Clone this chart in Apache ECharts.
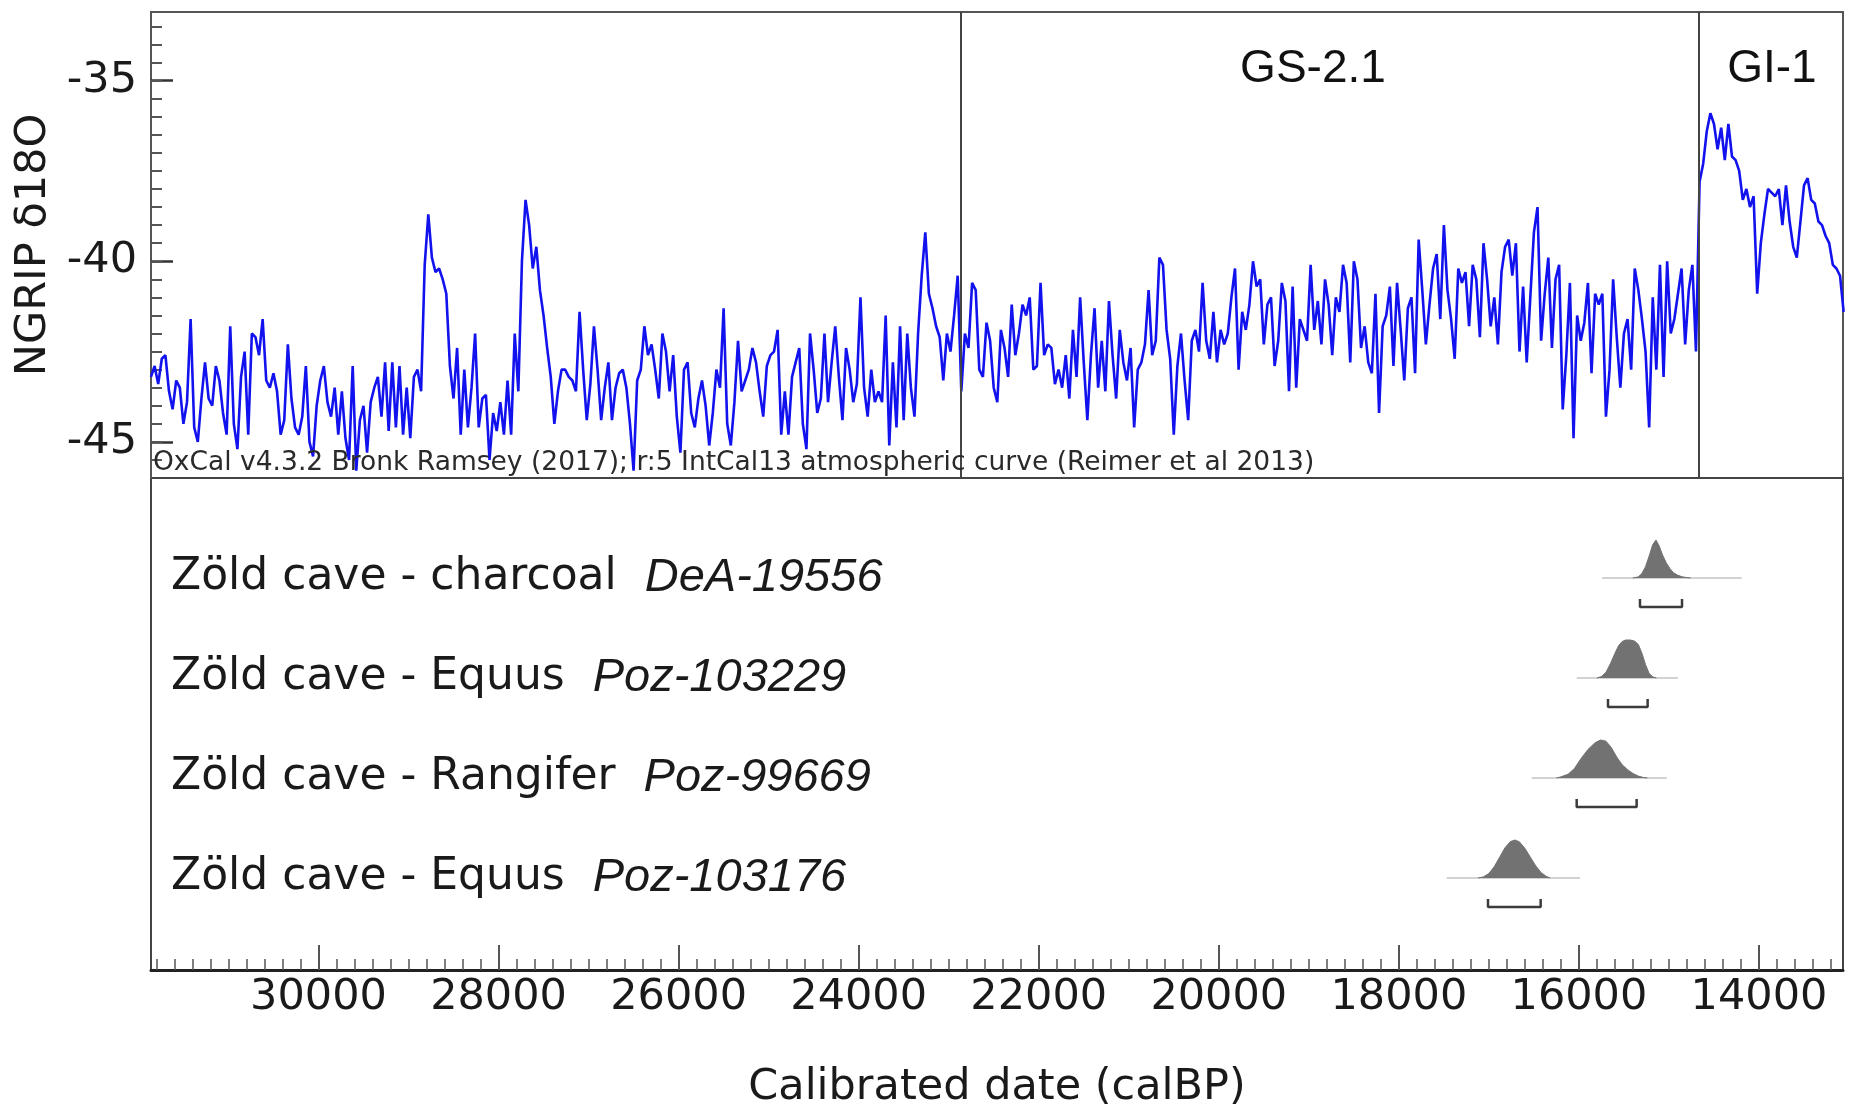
<!DOCTYPE html>
<html>
<head>
<meta charset="utf-8">
<title>NGRIP δ18O and Zöld cave dates</title>
<script src="https://cdn.jsdelivr.net/npm/echarts/dist/echarts.min.js"></script>
<style>
  html, body { margin: 0; padding: 0; background: #fff; }
  #chart { width: 1850px; height: 1111px; }
</style>
</head>
<body>
<div id="chart"></div>
<script>
// NGRIP d18O, one value every 40 years, oldest first
const ngripStart = 31860;
const ngripStep = 40;
const ngripValues = [
  -43.2, -42.9, -43.4, -42.7, -42.6, -43.6, -44.1, -43.3, -43.5, -44.5,
  -43.9, -41.6, -44.6, -45.0, -43.8, -42.8, -43.8, -44.0, -42.9, -43.3,
  -44.2, -44.8, -41.8, -44.5, -45.2, -43.2, -42.5, -44.8, -42.0, -42.1,
  -42.6, -41.6, -43.3, -43.5, -43.1, -43.6, -44.8, -44.4, -42.3, -43.8,
  -44.6, -44.8, -44.3, -42.9, -45.0, -45.4, -44.0, -43.3, -42.9, -43.9,
  -44.3, -43.5, -44.8, -43.6, -44.9, -45.5, -42.9, -45.8, -44.4, -44.0,
  -45.3, -43.9, -43.5, -43.2, -44.3, -42.8, -44.7, -42.8, -44.6, -42.9,
  -44.8, -43.5, -44.9, -43.2, -43.0, -43.6, -40.1, -38.7, -39.9, -40.3,
  -40.2, -40.5, -40.9, -42.9, -43.8, -42.4, -44.8, -43.0, -44.6, -43.5,
  -42.0, -44.6, -43.8, -43.7, -45.5, -44.2, -44.7, -43.9, -44.8, -43.3,
  -44.8, -42.0, -43.6, -40.0, -38.3, -39.0, -40.2, -39.6, -40.8, -41.5,
  -42.4, -43.2, -44.5, -43.6, -43.0, -43.0, -43.2, -43.3, -43.6, -41.4,
  -43.0, -44.4, -43.4, -41.8, -43.0, -44.4, -43.5, -42.8, -44.4, -43.5,
  -43.1, -43.0, -43.5, -44.5, -45.8, -43.3, -43.0, -41.8, -42.6, -42.3,
  -43.0, -43.8, -42.0, -42.5, -43.6, -42.6, -44.3, -45.3, -43.0, -42.8,
  -44.2, -44.6, -43.8, -43.3, -44.0, -45.1, -44.2, -43.0, -43.5, -41.3,
  -44.5, -45.1, -43.9, -42.2, -43.6, -43.3, -43.0, -42.4, -42.8, -43.6,
  -44.3, -42.9, -42.6, -42.5, -41.9, -44.8, -43.6, -44.8, -43.2, -42.8,
  -42.4, -44.5, -45.2, -42.0, -43.0, -44.2, -43.8, -42.0, -43.9, -42.8,
  -41.8, -43.2, -44.4, -42.4, -43.0, -43.9, -43.4, -41.0, -43.5, -44.3,
  -43.0, -43.9, -43.6, -43.9, -41.5, -45.1, -42.8, -44.6, -41.8, -44.4,
  -42.0, -43.5, -44.3, -42.0, -40.4, -39.2, -40.9, -41.3, -41.8, -42.1,
  -43.3, -42.0, -42.5, -41.5, -40.4, -43.6, -42.0, -42.4, -40.6, -40.8,
  -43.0, -43.2, -41.7, -42.2, -43.5, -43.9, -41.9, -42.4, -43.2, -41.2,
  -42.6, -42.0, -41.2, -41.5, -41.0, -43.0, -42.9, -40.6, -42.6, -42.3,
  -42.4, -43.4, -43.0, -43.5, -42.6, -43.8, -41.9, -43.2, -41.0, -42.8,
  -44.4, -42.6, -41.3, -43.5, -42.2, -43.6, -41.1, -42.6, -43.8, -41.9,
  -42.8, -43.3, -42.4, -44.6, -43.0, -42.8, -42.3, -40.8, -42.6, -42.2,
  -39.9, -40.1, -41.9, -42.7, -44.8, -42.9, -42.0, -43.3, -44.4, -42.2,
  -41.9, -42.5, -40.6, -42.2, -42.7, -41.4, -42.8, -41.9, -42.3, -42.0,
  -41.0, -40.2, -43.0, -41.4, -41.9, -41.2, -40.0, -40.7, -40.5, -42.3,
  -41.2, -41.0, -42.9, -42.2, -40.6, -41.1, -43.6, -40.7, -43.5, -41.6,
  -41.9, -42.2, -40.1, -41.9, -41.1, -42.3, -40.5, -41.2, -42.6, -41.0,
  -41.4, -40.1, -40.6, -42.8, -40.0, -40.5, -42.4, -41.8, -42.8, -43.1,
  -40.9, -44.2, -41.8, -41.5, -40.7, -42.9, -40.6, -41.9, -43.3, -41.3,
  -41.0, -43.1, -39.4, -40.8, -42.3, -41.2, -40.2, -39.8, -41.6, -39.0,
  -40.8, -41.6, -42.7, -40.2, -40.6, -40.3, -41.8, -40.1, -40.5, -42.1,
  -39.5, -40.5, -41.8, -41.0, -42.3, -40.3, -39.6, -39.4, -40.4, -39.5,
  -42.5, -40.7, -42.8, -41.0, -39.2, -38.5, -42.2, -40.9, -39.9, -42.4,
  -40.5, -40.1, -44.1, -42.6, -40.6, -44.9, -41.5, -42.2, -41.7, -40.6,
  -43.1, -40.9, -41.2, -40.9, -44.3, -43.0, -40.5, -42.1, -43.5, -42.0,
  -41.6, -43.0, -40.2, -40.8, -41.6, -42.5, -44.6, -41.0, -43.0, -40.1,
  -43.2, -40.0, -42.0, -41.6, -40.9, -40.2, -42.3, -40.8, -40.1, -42.5,
  -37.8, -37.3, -36.4, -35.9, -36.2, -36.9, -36.3, -37.2, -36.2, -37.1,
  -37.2, -37.5, -38.3, -38.0, -38.5, -38.2, -40.9, -39.5, -38.7, -38.0,
  -38.1, -38.2, -38.0, -39.0, -37.9, -38.9, -39.6, -39.9, -38.9, -37.9,
  -37.7, -38.3, -38.4, -38.9, -39.0, -39.3, -39.5, -40.1, -40.2, -40.4,
  -41.4
];

// axes
const xMin = 13067;
const xMax = 31860;
const yMin = -46;
const yMax = -33.1;
const xTickLabels = [14000, 16000, 18000, 20000, 22000, 24000, 26000, 28000, 30000];
const yTickLabels = [-45, -40, -35];

// Greenland stadial / interstadial boundaries
const eventBounds = [22869, 14667];
const eventNames = ['GS-2.1', 'GI-1'];
const eventLabelYears = [18954, 13856];
const eventLabelLevel = -34.7;

// radiocarbon dates (calibrated), one row each
const sampleSites = ['Zöld cave - charcoal', 'Zöld cave - Equus', 'Zöld cave - Rangifer', 'Zöld cave - Equus'];
const sampleCodes = ['DeA-19556', 'Poz-103229', 'Poz-99669', 'Poz-103176'];
const distDeA19556 = [[15400, 0], [15340, 0.03], [15300, 0.12], [15260, 0.3], [15220, 0.58], [15180, 0.88], [15144, 1], [15110, 0.85], [15070, 0.6], [15030, 0.4], [14990, 0.25], [14950, 0.14], [14900, 0.07], [14850, 0.03], [14800, 0.01], [14760, 0]];
const distPoz103229 = [[15800, 0], [15750, 0.04], [15700, 0.15], [15650, 0.38], [15600, 0.65], [15560, 0.85], [15520, 0.96], [15480, 1], [15430, 1], [15380, 0.97], [15340, 0.88], [15300, 0.65], [15260, 0.35], [15220, 0.12], [15180, 0.03], [15140, 0]];
const distPoz99669 = [[16250, 0], [16200, 0.03], [16120, 0.1], [16050, 0.25], [15980, 0.5], [15900, 0.75], [15820, 0.93], [15760, 1], [15700, 0.97], [15640, 0.8], [15580, 0.55], [15520, 0.35], [15460, 0.22], [15400, 0.12], [15340, 0.05], [15280, 0.01], [15240, 0]];
const distPoz103176 = [[17120, 0], [17060, 0.03], [17000, 0.12], [16940, 0.3], [16880, 0.55], [16820, 0.8], [16760, 0.96], [16710, 1], [16660, 0.95], [16600, 0.78], [16540, 0.55], [16480, 0.32], [16420, 0.14], [16360, 0.04], [16320, 0]];
const distributions = [distDeA19556, distPoz103229, distPoz99669, distPoz103176];
const likeFrom = [15744, 16025, 16525, 17469];
const likeTo = [14193, 14900, 15026, 15988];
const rangeFrom = [15322, 15677, 16025, 17010];
const rangeTo = [14855, 15237, 15359, 16425];

// minor ticks every 200 years, every 0.5 per mil
const xMinorTicks = [];
for (let t = 13200; t < xMax; t += 200) xMinorTicks.push(t);
const yMinorTicks = [];
for (let t = -45.5; t < yMax; t += 0.5) yMinorTicks.push(t);

const ngripData = ngripValues.map((v, i) => [ngripStart - i * ngripStep, v]);

const textFont = 'DejaVu Sans';
const peakHeight = 0.38;

let chart = echarts.init(document.getElementById('chart'));

const series = [
  {
    type: 'line',
    xAxisIndex: 0,
    yAxisIndex: 0,
    data: ngripData,
    symbol: 'none',
    silent: true,
    lineStyle: { color: '#1212ee', width: 2.6 },
    markLine: {
      silent: true,
      symbol: 'none',
      label: { show: false },
      lineStyle: { color: '#444', width: 2, type: 'solid' },
      data: eventBounds.map(x => ({ xAxis: x }))
    },
    z: 3
  },
  {
    type: 'scatter',
    xAxisIndex: 0,
    yAxisIndex: 0,
    data: eventLabelYears.map((x, i) => [x, eventLabelLevel, eventNames[i]]),
    symbolSize: 1,
    itemStyle: { color: 'transparent', opacity: 1 },
    silent: true,
    label: {
      show: true,
      position: 'inside',
      formatter: p => p.data[2],
      fontFamily: 'Liberation Sans',
      fontSize: 46,
      color: '#111',
      opacity: 1,
      textBorderWidth: 0
    }
  }
];

distributions.forEach((d, r) => {
  const row = r + 1;
  // faint full-range line under each distribution
  series.push({
    type: 'line',
    xAxisIndex: 1,
    yAxisIndex: 2,
    data: [[likeFrom[r], row], [likeTo[r], row]],
    symbol: 'none',
    silent: true,
    lineStyle: { color: '#d2d2d2', width: 2 },
    z: 2
  });
  series.push({
    type: 'line',
    xAxisIndex: 1,
    yAxisIndex: 2,
    data: d.map(p => [p[0], row - p[1] * peakHeight]),
    symbol: 'none',
    silent: true,
    lineStyle: { color: '#727272', width: 1 },
    areaStyle: { color: '#727272', opacity: 1, origin: row },
    z: 3
  });
  // 95% range bracket
  series.push({
    type: 'line',
    xAxisIndex: 1,
    yAxisIndex: 2,
    data: [[rangeFrom[r], row + 0.21], [rangeFrom[r], row + 0.29], [rangeTo[r], row + 0.29], [rangeTo[r], row + 0.21]],
    symbol: 'none',
    silent: true,
    lineStyle: { color: '#3c3c3c', width: 2.5 },
    z: 3
  });
});

myOption = {
  animation: false,
  backgroundColor: '#fff',
  grid: [
    { left: 151, right: 7, top: 12, height: 466, show: true, borderColor: '#555', borderWidth: 2 },
    { left: 151, right: 7, top: 478, height: 492, show: true, borderColor: '#444', borderWidth: 2 }
  ],
  xAxis: [
    {
      gridIndex: 0, type: 'value', position: 'bottom', min: xMin, max: xMax, inverse: true,
      axisLine: { show: false }, axisTick: { show: false },
      axisLabel: { show: false }, splitLine: { show: false }
    },
    {
      gridIndex: 1, type: 'value', position: 'bottom', min: xMin, max: xMax, inverse: true,
      name: 'Calibrated date (calBP)',
      nameLocation: 'middle',
      nameGap: 96,
      nameTextStyle: { fontFamily: textFont, fontSize: 43, color: '#1a1a1a' },
      axisLine: { show: true, onZero: false, lineStyle: { color: '#222', width: 3 } },
      axisTick: { show: true, inside: true, length: 25, customValues: xTickLabels, lineStyle: { color: '#555', width: 2 } },
      axisLabel: {
        show: true, customValues: xTickLabels, margin: 6,
        fontFamily: textFont, fontSize: 43, color: '#1a1a1a',
        formatter: v => String(v)
      },
      splitLine: { show: false }
    },
    {
      gridIndex: 1, type: 'value', position: 'bottom', min: xMin, max: xMax, inverse: true,
      axisLine: { show: false, onZero: false },
      axisTick: { show: true, inside: true, length: 11, customValues: xMinorTicks, lineStyle: { color: '#555', width: 1.5 } },
      axisLabel: { show: false }, splitLine: { show: false }
    }
  ],
  yAxis: [
    {
      gridIndex: 0, type: 'value', position: 'left', min: yMin, max: yMax,
      name: 'NGRIP δ18O',
      nameLocation: 'middle',
      nameGap: 96,
      nameTextStyle: { fontFamily: textFont, fontSize: 43, color: '#1a1a1a' },
      axisLine: { show: true, onZero: false, lineStyle: { color: '#555', width: 2 } },
      axisTick: { show: true, inside: true, length: 22, customValues: yTickLabels, lineStyle: { color: '#333', width: 2.5 } },
      axisLabel: {
        customValues: yTickLabels,
        margin: 14, fontFamily: textFont, fontSize: 43, color: '#1a1a1a',
        formatter: v => String(v)
      },
      splitLine: { show: false }
    },
    {
      gridIndex: 0, type: 'value', position: 'left', min: yMin, max: yMax,
      axisLine: { show: false, onZero: false },
      axisTick: { show: true, inside: true, length: 11, customValues: yMinorTicks, lineStyle: { color: '#555', width: 2 } },
      axisLabel: { show: false }, splitLine: { show: false }
    },
    {
      gridIndex: 1, type: 'value', position: 'left', min: 0, max: 4.92, interval: 1, inverse: true,
      axisLine: { show: false }, axisTick: { show: false }, splitLine: { show: false },
      axisLabel: {
        inside: true,
        margin: 20,
        formatter: v => {
          const r = Math.round(v);
          if (r !== v || r < 1 || r > sampleSites.length) return '';
          return '{n|' + sampleSites[r - 1] + '  }{i|' + sampleCodes[r - 1] + '}';
        },
        rich: {
          n: { fontFamily: textFont, fontSize: 44, color: '#1a1a1a' },
          i: { fontFamily: 'Liberation Sans', fontStyle: 'italic', fontSize: 47, color: '#1a1a1a' }
        }
      }
    }
  ],
  graphic: [
    {
      type: 'text',
      x: 153,
      y: 477,
      silent: true,
      style: {
        text: 'OxCal v4.3.2 Bronk Ramsey (2017); r:5 IntCal13 atmospheric curve (Reimer et al 2013)',
        font: '26.5px "DejaVu Sans"',
        fill: '#2a2a2a',
        verticalAlign: 'bottom'
      },
      z: 10
    }
  ],
  series: series
};

chart.setOption(myOption);
</script>
</body>
</html>
